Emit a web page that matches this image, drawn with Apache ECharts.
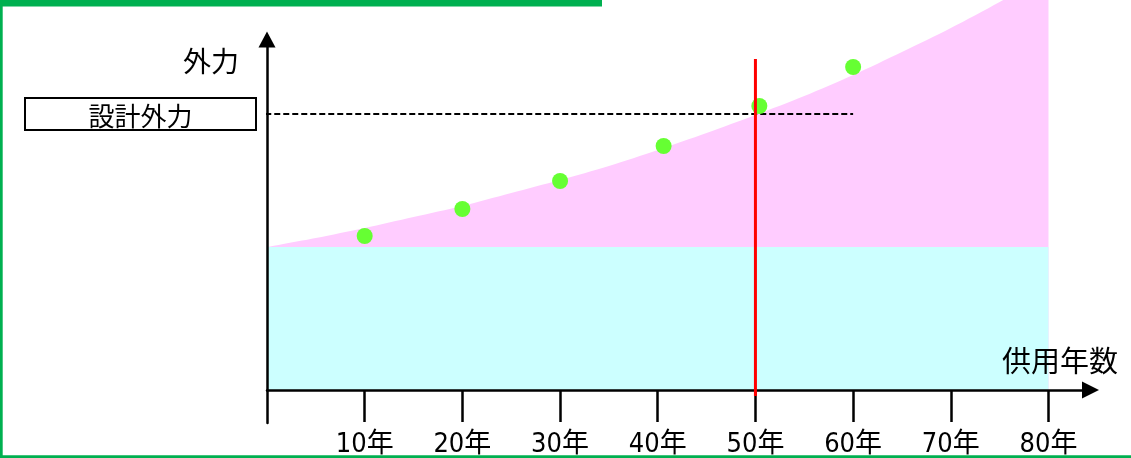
<!DOCTYPE html>
<html>
<head>
<meta charset="utf-8">
<script src="https://cdn.jsdelivr.net/npm/echarts@6/dist/echarts.min.js"></script>
<style>
  html, body { margin: 0; padding: 0; background: #fff; }
  #chart { width: 1131px; height: 458px; }
</style>
</head>
<body>
<div id="chart"></div>
<script>
// Years in service that get a tick on the horizontal axis
const tickYears = [10, 20, 30, 40, 50, 60, 70, 80];

// Upper edge of the growing load band (pink), sampled every 5 years
const loadYears = [0, 5, 10, 15, 20, 25, 30, 35, 40, 45, 50, 55, 60, 65, 70, 75, 80];
const loadUpper = [143, 152, 162, 173, 184, 197, 210, 224, 240, 257, 275, 294, 315, 338, 362, 388, 416];

// Constant base load (cyan band)
const baseYears = [0, 80];
const baseLoad = [143, 143];

// External force observed at each age (green dots)
const obsYears = [10, 20, 30, 40.6, 50.4, 60];
const obsForce = [154, 181, 209, 244, 284, 323];

// Design external force and the span of its guide line (in years)
const designForce = 276;
const designSpan = [-1.1, 60];

// Service-life marker (red) and its vertical extent
const lifeYear = 50;
const lifeSpan = [-6, 331];

const CJK = '"Noto Sans CJK JP", "Noto Sans CJK SC", sans-serif';
const NUM = '"Liberation Sans Narrow", "DejaVu Sans Condensed", "Noto Sans CJK JP", sans-serif';
const FRAME = '#00b050';

const chart = echarts.init(document.getElementById('chart'), null, { renderer: 'canvas' });

const pairs = (xs, ys) => xs.map((x, i) => [x, ys[i]]);

chart.setOption({
  animation: false,
  backgroundColor: '#fff',
  grid: { left: 267, right: 40.5, top: 39.5, bottom: 35, containLabel: false, outerBoundsMode: 'none' },
  xAxis: {
    type: 'value',
    min: 0,
    max: 84.3,
    z: 5,
    axisLine: {
      onZero: true,
      lineStyle: { color: '#000', width: 2.5 },
      symbol: ['none', 'triangle'],
      symbolSize: [17, 17]
    },
    axisTick: {
      show: true,
      length: 32,
      customValues: tickYears,
      lineStyle: { color: '#000', width: 2.5 }
    },
    axisLabel: {
      customValues: tickYears,
      formatter: v => v + '年',
      margin: 8,
      fontSize: 27,
      fontFamily: NUM,
      color: '#000'
    },
    splitLine: { show: false }
  },
  yAxis: {
    type: 'value',
    min: -33,
    max: 350.5,
    z: 5,
    axisLine: {
      show: true,
      onZero: false,
      lineStyle: { color: '#000', width: 2.5 },
      symbol: ['none', 'triangle'],
      symbolSize: [17, 16]
    },
    axisTick: { show: false },
    axisLabel: { show: false },
    splitLine: { show: false }
  },
  series: [
    {
      name: 'load band',
      type: 'line',
      data: pairs(loadYears, loadUpper),
      smooth: 0.3,
      symbol: 'none',
      clip: false,
      silent: true,
      z: 1,
      lineStyle: { width: 0 },
      areaStyle: { color: '#ffccff', opacity: 1 }
    },
    {
      name: 'base load',
      type: 'line',
      data: pairs(baseYears, baseLoad),
      symbol: 'none',
      silent: true,
      z: 1,
      lineStyle: { width: 0 },
      areaStyle: { color: '#ccffff', opacity: 1 }
    },
    {
      name: 'design force',
      type: 'line',
      data: designSpan.map(x => [x, designForce]),
      symbol: 'none',
      clip: false,
      silent: true,
      z: 6,
      lineStyle: { color: '#000', width: 2, type: [6, 3] }
    },
    {
      name: 'observed force',
      type: 'scatter',
      data: pairs(obsYears, obsForce),
      symbol: 'circle',
      symbolSize: 16,
      silent: true,
      z: 7,
      itemStyle: { color: '#66ff33', opacity: 1 }
    },
    {
      name: 'service life',
      type: 'line',
      data: lifeSpan.map(y => [lifeYear, y]),
      symbol: 'none',
      clip: false,
      silent: true,
      z: 8,
      lineStyle: { color: '#ff0000', width: 3 }
    }
  ]
});

// Label box for the design force, aligned to its guide line
const designY = chart.convertToPixel({ yAxisIndex: 0 }, designForce);

chart.setOption({
  graphic: [
    { type: 'rect', shape: { x: 0, y: 0, width: 602, height: 6.5 }, style: { fill: FRAME }, z: 20, silent: true },
    { type: 'rect', shape: { x: 0, y: 0, width: 2.7, height: 458 }, style: { fill: FRAME }, z: 20, silent: true },
    { type: 'rect', shape: { x: 0, y: 455.3, width: 1131, height: 2.7 }, style: { fill: FRAME }, z: 20, silent: true },
    {
      type: 'rect',
      shape: { x: 25, y: designY - 16, width: 231, height: 32 },
      style: { fill: '#fff', stroke: '#000', lineWidth: 2 },
      z: 10, silent: true
    },
    {
      type: 'text',
      x: 140.5, y: designY + 2.5,
      style: { text: '設計外力', font: '26px ' + CJK, fill: '#000', align: 'center', verticalAlign: 'middle' },
      z: 11, silent: true
    },
    {
      type: 'text',
      x: 211, y: 61,
      style: { text: '外力', font: '28px ' + CJK, fill: '#000', align: 'center', verticalAlign: 'middle' },
      z: 11, silent: true
    },
    {
      type: 'text',
      x: 1060, y: 361,
      style: { text: '供用年数', font: '29px ' + CJK, fill: '#000', align: 'center', verticalAlign: 'middle' },
      z: 11, silent: true
    }
  ]
});
</script>
</body>
</html>
